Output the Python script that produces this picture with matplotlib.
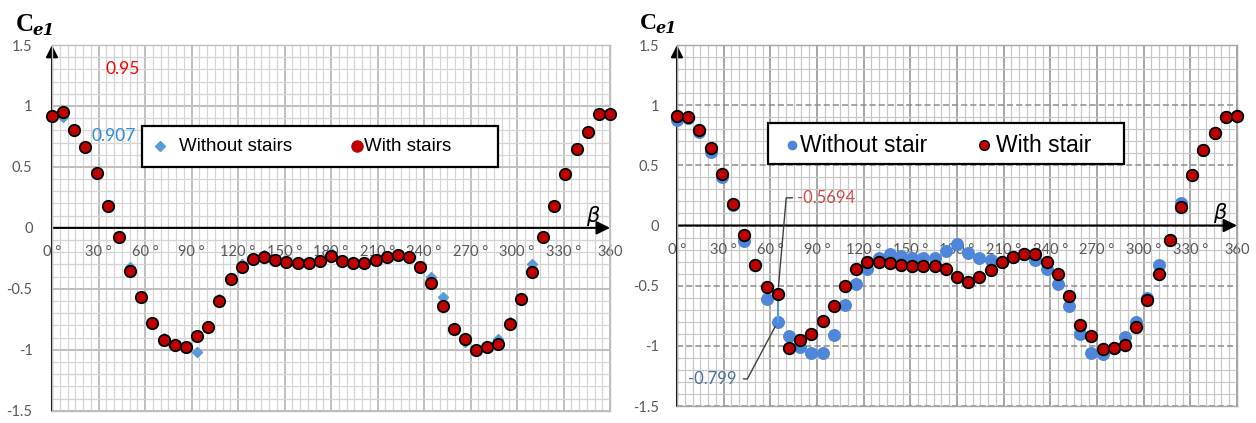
import numpy as np
import matplotlib
matplotlib.use("Agg")
import matplotlib.pyplot as plt
from matplotlib.patches import Rectangle
from matplotlib.lines import Line2D

# ---------------- data ----------------
beta = np.linspace(0, 360, 51)  # wind angle categories (deg)

left_with = [0.92, 0.95, 0.80, 0.66, 0.45, 0.18, -0.077, -0.35, -0.57, -0.78,
             -0.92, -0.96, -0.975, -0.89, -0.81, -0.60, -0.42, -0.32, -0.255, -0.24,
             -0.26, -0.28, -0.29, -0.29, -0.27, -0.23, -0.27, -0.29, -0.29, -0.26,
             -0.24, -0.225, -0.24, -0.32, -0.45, -0.64, -0.83, -0.91, -1.00, -0.98,
             -0.95, -0.79, -0.58, -0.36, -0.077, 0.18, 0.44, 0.65, 0.79, 0.93, 0.93]
left_without = [0.92, 0.907, 0.80, 0.66, 0.44, 0.18, -0.08, -0.32, -0.57, -0.78,
                -0.90, -0.96, -0.975, -1.02, -0.81, -0.58, -0.41, -0.30, -0.25, -0.225,
                -0.26, -0.28, -0.29, -0.29, -0.27, -0.21, -0.27, -0.29, -0.29, -0.26,
                -0.24, -0.225, -0.24, -0.31, -0.40, -0.565, -0.83, -0.94, -1.00, -0.98,
                -0.91, -0.77, -0.58, -0.30, -0.07, 0.18, 0.44, 0.65, 0.79, 0.93, 0.93]

right_with = [0.91, 0.90, 0.79, 0.64, 0.43, 0.175, -0.08, -0.33, -0.51, -0.5694,
              -1.02, -0.95, -0.905, -0.79, -0.67, -0.50, -0.36, -0.30, -0.30, -0.315,
              -0.325, -0.34, -0.34, -0.34, -0.36, -0.43, -0.47, -0.43, -0.37, -0.30,
              -0.26, -0.24, -0.233, -0.30, -0.40, -0.59, -0.83, -0.92, -1.03, -1.02,
              -0.99, -0.84, -0.62, -0.40, -0.12, 0.15, 0.42, 0.63, 0.77, 0.90, 0.91]
right_without = [0.88, 0.89, 0.78, 0.61, 0.40, 0.17, -0.13, -0.33, -0.61, -0.799,
                 -0.92, -1.01, -1.056, -1.056, -0.91, -0.66, -0.49, -0.36, -0.27, -0.24,
                 -0.25, -0.27, -0.27, -0.27, -0.21, -0.155, -0.23, -0.27, -0.29, -0.30,
                 -0.26, -0.24, -0.29, -0.36, -0.49, -0.67, -0.90, -1.056, -1.065, -1.02,
                 -0.93, -0.80, -0.60, -0.33, -0.12, 0.19, 0.42, 0.63, 0.77, 0.90, 0.91]

x_ticks = [0, 30, 60, 90, 120, 150, 180, 210, 240, 270, 300, 330, 360]
x_tick_labels = ["0 °", "30 °", "60 °", "90 °", "120 °", "150 °", "180 °", "210 °",
                 "240 °", "270 °", "300 °", "330 °", "360"]
y_ticks = [-1.5, -1, -0.5, 0, 0.5, 1, 1.5]
y_tick_labels = ["-1.5", "-1", "-0.5", "0", "0.5", "1", "1.5"]

legend_left = ["Without stairs", "With stairs"]
legend_right = ["Without stair", "With stair"]

# ---------------- figure ----------------
W, H = 1256, 423
fig = plt.figure(figsize=(W / 100, H / 100), dpi=100)
fig.patch.set_facecolor("white")


def fx(px):
    return px / W


def fy(py):
    return 1 - py / H


RED = "#C00000"
TICKFONT = "Lato"


def setup_axes(ax, dashed_major_h=False, major_col="#BFBFBF", minor_col="#D4D4D4",
               ypad=12):
    ax.set_xlim(0, 360)
    ax.set_ylim(-1.5, 1.5)
    ax.set_xticks(x_ticks)
    ax.set_xticks(np.arange(0, 361, 5), minor=True)
    ax.set_yticks(y_ticks)
    ax.set_yticks(np.arange(-1.5, 1.51, 0.1), minor=True)
    ax.set_xticklabels([])
    ax.set_yticklabels(y_tick_labels, fontfamily=TICKFONT, fontsize=10.5,
                       color="#595959")
    ax.tick_params(which="both", length=0)
    ax.tick_params(axis="y", pad=ypad)
    ax.grid(which="minor", color=minor_col, lw=0.9, zorder=0)
    ax.xaxis.grid(True, which="major", color=major_col, lw=1.4)
    if dashed_major_h:
        ax.yaxis.grid(True, which="major", color="#8C8C8C", lw=1.1, ls=(0, (4, 2)))
    else:
        ax.yaxis.grid(True, which="major", color=major_col, lw=1.4)
    ax.set_axisbelow(True)
    for s in ax.spines.values():
        s.set_color(major_col)
        s.set_linewidth(1.0)
    # axis arrows
    ax.annotate("", xy=(360, 0), xytext=(0, 0),
                arrowprops=dict(arrowstyle="-|>", lw=1.5, color="black",
                                mutation_scale=20, shrinkA=0, shrinkB=0),
                annotation_clip=False, zorder=2)
    ax.annotate("", xy=(0, 1.5), xytext=(0, -1.5),
                arrowprops=dict(arrowstyle="-|>", lw=1.5, color="black",
                                mutation_scale=18, shrinkA=0, shrinkB=0),
                annotation_clip=False, zorder=2)
    for xt, lab in zip(x_ticks, x_tick_labels):
        ax.text(xt, -0.2, lab, ha="center", va="center", fontfamily=TICKFONT,
                fontsize=10.5, color="#595959", zorder=2)
    ax.text(349, 0.1, r"$\beta$", ha="center", va="center", fontsize=15,
            color="black", zorder=2)


# ---------------- left chart ----------------
axL = fig.add_axes([fx(52), fy(410.7), fx(558), (410.7 - 45) / H])
setup_axes(axL, ypad=14)
axL.plot(beta, left_without, ls="none", marker="D", ms=5.5, mfc="#5B9BD5",
         mec="#5B9BD5", zorder=3, clip_on=False)
axL.plot(beta, left_with, ls="none", marker="o", ms=8.2, mfc=RED, mec="black",
         mew=1.3, zorder=4, clip_on=False)
axL.text(fx(105), fy(69), "0.95", transform=fig.transFigure, color="#FF0000",
         fontfamily=TICKFONT, fontsize=12.5, va="center", ha="left")
axL.text(fx(92), fy(136), "0.907", transform=fig.transFigure, color="#2E8BD6",
         fontfamily=TICKFONT, fontsize=12.5, va="center", ha="left")

# left legend (drawn manually)
fig.patches.append(Rectangle((fx(142), fy(167)), fx(498 - 142), (167 - 126) / H,
                             transform=fig.transFigure, facecolor="white",
                             edgecolor="black", lw=1.6, zorder=5))
fig.lines.append(Line2D([fx(160)], [fy(146)], transform=fig.transFigure, marker="D",
                        ms=5.5, mfc="#5B9BD5", mec="#5B9BD5", zorder=6))
fig.lines.append(Line2D([fx(357)], [fy(146)], transform=fig.transFigure, marker="o",
                        ms=8, mfc=RED, mec=RED, zorder=6))
fig.text(fx(179), fy(146), legend_left[0], fontfamily="Liberation Sans",
         fontsize=13.5, va="center", ha="left", zorder=7)
fig.text(fx(364), fy(146), legend_left[1], fontfamily="Liberation Sans",
         fontsize=13.5, va="center", ha="left", zorder=7)

# title C_e1 (left)
fig.text(fx(16), fy(31), "C", fontfamily="Liberation Serif", fontweight="bold",
         fontsize=18, va="baseline", ha="left")
fig.text(fx(32), fy(35), "e1", fontfamily="DejaVu Serif", fontweight="bold",
         fontstyle="italic", fontsize=12, va="baseline", ha="left")

# ---------------- right chart ----------------
axR = fig.add_axes([fx(677), fy(406), fx(560), 361 / H])
setup_axes(axR, dashed_major_h=True, major_col="#A6A6A6", minor_col="#C8C8C8",
           ypad=13)
BLUE_R = "#4F86D9"
axR.plot(beta, right_without, ls="none", marker="o", ms=8.3, mfc=BLUE_R,
         mec=BLUE_R, zorder=3, clip_on=False)
axR.plot([beta[9], beta[9]], [right_with[9], right_without[9]], color="#5B9BD5",
         lw=1.5, zorder=3)
axR.plot(beta, right_with, ls="none", marker="o", ms=8.3, mfc=RED, mec="black",
         mew=1.3, zorder=4, clip_on=False)
axR.annotate("-0.5694", xy=(beta[9], right_with[9]), xytext=(77, 0.23),
             textcoords="data", color="#D04A4A", fontfamily=TICKFONT, fontsize=12,
             ha="left", va="center", zorder=6,
             arrowprops=dict(arrowstyle="-", color="#404040", lw=1.0,
                             relpos=(0, 0.5), shrinkA=1, shrinkB=5,
                             connectionstyle="angle,angleA=0,angleB=85,rad=0"))
axR.annotate("-0.799", xy=(beta[9], right_without[9]), xytext=(7, -1.275),
             textcoords="data", color="#4F6F9A", fontfamily=TICKFONT, fontsize=12,
             ha="left", va="center", zorder=6,
             arrowprops=dict(arrowstyle="-", color="#404040", lw=1.0,
                             relpos=(1, 0.5), shrinkA=3, shrinkB=4,
                             connectionstyle="angle,angleA=0,angleB=62,rad=0"))

# right legend
fig.patches.append(Rectangle((fx(768), fy(164)), fx(1124 - 768), (164 - 123) / H,
                             transform=fig.transFigure, facecolor="white",
                             edgecolor="black", lw=1.6, zorder=5))
fig.lines.append(Line2D([fx(792)], [fy(145)], transform=fig.transFigure, marker="o",
                        ms=6, mfc=BLUE_R, mec=BLUE_R, zorder=6))
fig.lines.append(Line2D([fx(984)], [fy(145)], transform=fig.transFigure, marker="o",
                        ms=7, mfc=RED, mec="black", mew=1.0, zorder=6))
fig.text(fx(800), fy(145), legend_right[0], fontfamily="Liberation Sans",
         fontsize=16.5, va="center", ha="left", zorder=7)
fig.text(fx(996), fy(145), legend_right[1], fontfamily="Liberation Sans",
         fontsize=16.5, va="center", ha="left", zorder=7)

# title C_e1 (right)
fig.text(fx(640), fy(29), "C", fontfamily="Liberation Serif", fontweight="bold",
         fontsize=17, va="baseline", ha="left")
fig.text(fx(655), fy(33), "e1", fontfamily="DejaVu Serif", fontweight="bold",
         fontstyle="italic", fontsize=11.5, va="baseline", ha="left")

fig.savefig("out.png", dpi=100, facecolor="white")
